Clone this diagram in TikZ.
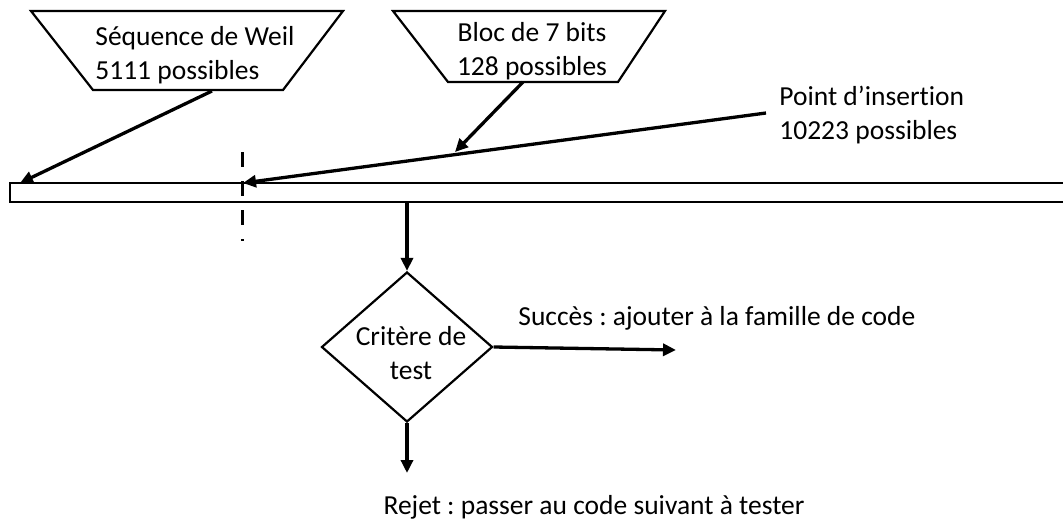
\documentclass[tikz,border=0pt]{standalone}
\usepackage{fontspec}
\setmainfont{Carlito}[Ligatures=NoCommon]
\usetikzlibrary{arrows.meta}
\usetikzlibrary{shapes.geometric}
\usetikzlibrary{positioning}
\frenchspacing

\begin{document}
\begin{tikzpicture}[x=1pt, y=-1pt, thick]
    \tikzstyle{txt}=[font=\fontsize{27.5}{34}\selectfont, inner sep=0pt, align=center]
    \tikzstyle{outline}=[draw, line width=2.2pt]
    \tikzstyle{flow}=[line width=3.3pt, -{Triangle[length=13pt,width=12pt]}]
    \useasboundingbox (0,0) rectangle (1063,522);
    % Sources of the code
    \draw[outline] (31,11) -- (343,11) -- (283,90) -- (93,90) -- cycle;
    \node[txt, align=left, anchor=west] (weil) at (95,55) {Séquence de Weil\\5111 possibles};
    \draw[outline] (393,11) -- (665,11) -- (618,82) -- (448,82) -- cycle;
    \node[txt] (bloc) at (532,51) {Bloc de 7 bits\\128 possibles};
    \node[txt, align=left, anchor=west] (point) at (779,115) {Point d’insertion\\10223 possibles};
    \coordinate (weilout) at (212,91);
    \coordinate (blocout) at (523,82);
    \coordinate (pointout) at (766,113);
    % The code bar
    \draw[outline] (1075,183) -- (10,183) -- (10,202) -- (1075,202);
    \coordinate (start) at (20,183);
    \coordinate (insert) at (243,183);
    \coordinate (onpath) at (455,152);
    \coordinate (barout) at (407,202);
    \draw[line width=3pt, dash pattern=on 15pt off 14pt] (242,152) -- (242,241);
    % Test
    \node[diamond, outline, minimum width=171pt, minimum height=150pt, inner sep=0pt] (test) at (407,347) {};
    \node[txt] (testtxt) at (411,353) {Critère de\\test};
    \node[txt, anchor=west] (ok) at (518,318) {Succès : ajouter à la famille de code};
    \node[txt] (ko) at (594,507) {Rejet : passer au code suivant à tester};
    \coordinate (okend) at (676,350);
    \coordinate (koend) at (407,473);
    \foreach \from/\to in {weilout/start, pointout/insert, blocout/onpath, barout/test.north, test.east/okend, test.south/koend}
        \draw[flow] (\from) -- (\to);
\end{tikzpicture}
\end{document}
